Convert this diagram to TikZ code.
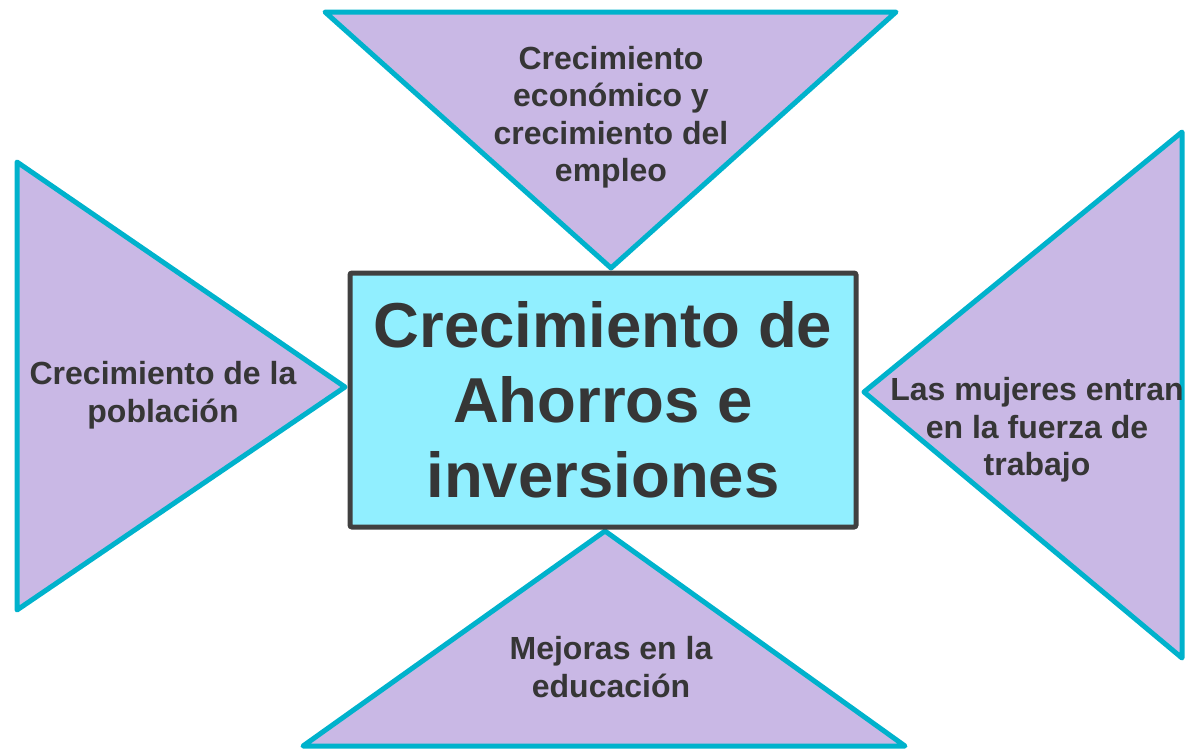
\documentclass[tikz,border=0pt]{standalone}
\usepackage{fontspec}
\setmainfont{Liberation Sans}
\definecolor{tricyan}{HTML}{00B2CC}
\definecolor{trifill}{HTML}{C9B8E5}
\definecolor{boxfill}{HTML}{91EFFF}
\definecolor{boxline}{HTML}{404040}
\definecolor{txt}{HTML}{363636}

\begin{document}
\begin{tikzpicture}[x=1pt,y=-1pt,
  tri/.style={draw=tricyan, fill=trifill, line width=5pt, line join=round},
  lab/.style={align=center, text=txt, font=\bfseries\fontsize{32}{37.5}\selectfont, inner sep=0pt},
  centerbox/.style={draw=boxline, fill=boxfill, line width=5pt, rounded corners=2pt,
    minimum width=506pt, minimum height=254pt, inner sep=0pt, align=center, text=txt,
    font=\bfseries\fontsize{63.5}{75}\selectfont}]
\useasboundingbox (0,0) rectangle (1186,748);

% triangles
\draw[tri] (325,12) -- (896,12) -- (611,268) -- cycle;
\draw[tri] (17,162) -- (345,387) -- (17,610) -- cycle;
\draw[tri] (1182,132) -- (1182,658) -- (864,392) -- cycle;
\draw[tri] (605,531) -- (905,746) -- (303,746) -- cycle;

\node[centerbox] (ahorro) at (603,400) {Crecimiento de\\Ahorros e\\inversiones};

\node[lab] (empleo) at (611,117) {Crecimiento\\económico y\\crecimiento del\\empleo};
\node[lab] (poblacion) at (163,395) {Crecimiento de la\\población};
\node[lab] (mujeres) at (1037,430) {Las mujeres entran\\en la fuerza de\\trabajo};
\node[lab] (educacion) at (611,667) {Mejoras en la\\educación};
\end{tikzpicture}
\end{document}
